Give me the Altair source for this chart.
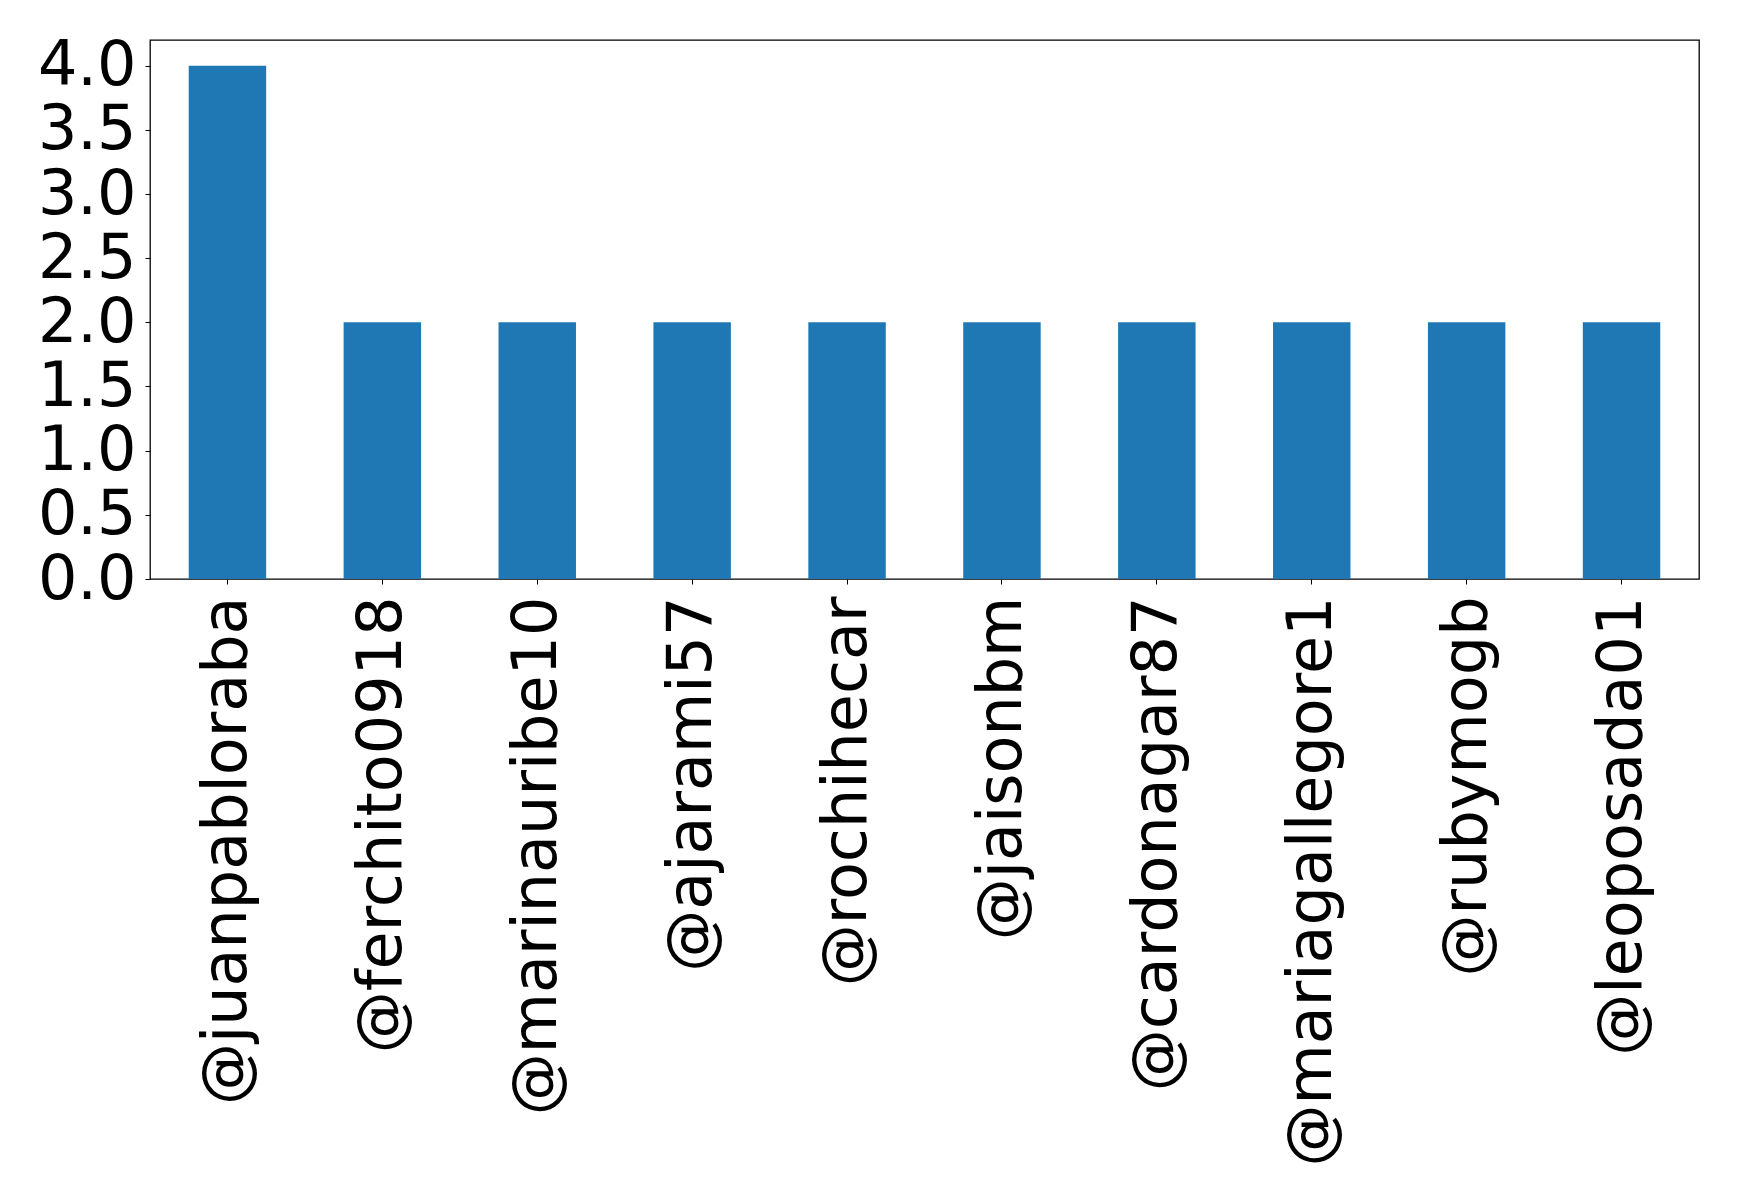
import altair as alt
import pandas as pd

users = [
    "@juanpabloraba", "@ferchito0918", "@marinauribe10", "@ajarami57",
    "@rochihecar", "@jaisonbm", "@cardonagar87", "@mariagallegore1",
    "@rubymogb", "@leoposada01",
]
counts = [4, 2, 2, 2, 2, 2, 2, 2, 2, 2]
y_ticks = [0.0, 0.5, 1.0, 1.5, 2.0, 2.5, 3.0, 3.5, 4.0]

df = pd.DataFrame({"user": users, "count": counts})

FONT = "DejaVu Sans"
FS = 62

chart = (
    alt.Chart(df)
    .mark_bar(color="#1f77b4")
    .encode(
        x=alt.X(
            "user:N",
            sort=users,
            title=None,
            scale=alt.Scale(paddingInner=0.5, paddingOuter=0.25),
            axis=alt.Axis(
                labelAngle=-90,
                labelAlign="right",
                labelBaseline="middle",
                labelFont=FONT,
                labelFontSize=FS,
                labelColor="black",
                labelPadding=12,
                labelLimit=0,
                labelOverlap=False,
                tickColor="black",
                tickSize=5,
                domain=False,
            ),
        ),
        y=alt.Y(
            "count:Q",
            title=None,
            scale=alt.Scale(domain=[0, 4.2], nice=False, zero=True),
            axis=alt.Axis(
                values=y_ticks,
                format=".1f",
                labelFont=FONT,
                labelFontSize=FS,
                labelColor="black",
                labelPadding=9,
                labelOverlap=False,
                tickColor="black",
                tickSize=5,
                grid=False,
                domain=False,
            ),
        ),
    )
    .properties(
        width=1549,
        height=539,
        autosize=alt.AutoSizeParams(type="none"),
        padding={"left": 150, "top": 40, "right": 40, "bottom": 624},
    )
    .configure(background="white", view=alt.ViewConfig(stroke="black", strokeWidth=1.3))
)

chart.save("out.html", embed_options={"renderer": "svg", "actions": False})
